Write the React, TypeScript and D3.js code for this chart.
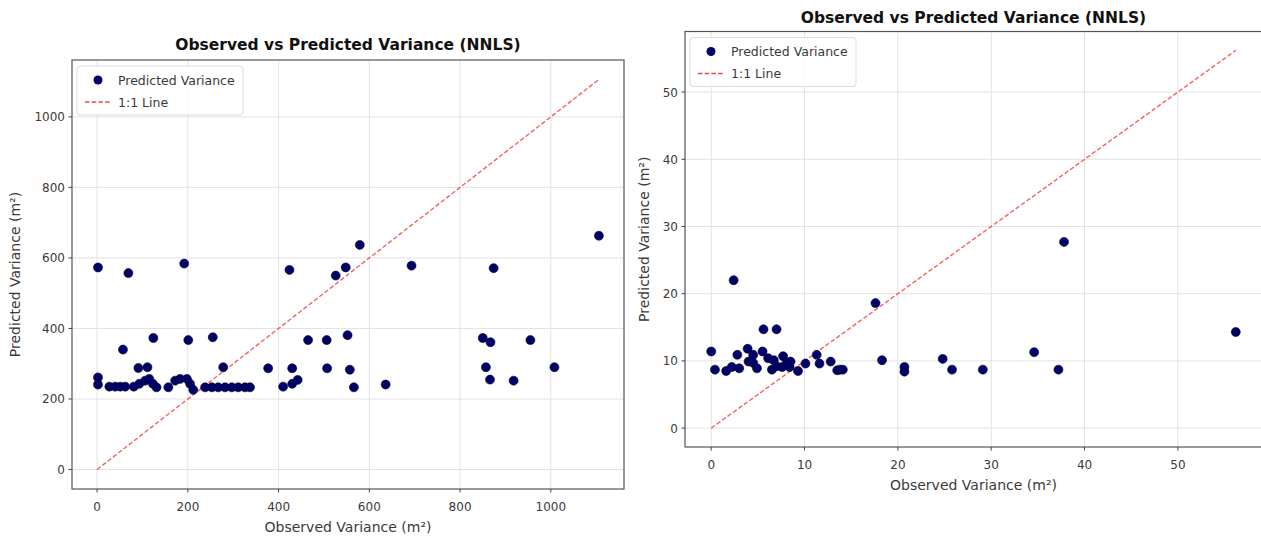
import React from 'react';
import * as d3 from 'd3';

// left panel: observed vs predicted (m²)
const leftObserved = [2, 69, 192, 424, 526, 548, 579, 693, 874, 1106,
  57, 124, 201, 255, 465, 506, 552, 850, 867, 955,
  91, 111, 278, 377, 430, 507, 557, 857, 1008,
  2, 2, 27, 40, 51, 62, 81, 93, 106, 115, 123, 131, 157, 172, 183, 198, 205, 212,
  238, 253, 267, 282, 297, 311, 326, 337, 410, 430, 442, 566, 636, 866, 918];
const leftPredicted = [573, 557, 584, 566, 550, 573, 637, 578, 571, 663,
  340, 373, 367, 375, 367, 367, 381, 373, 361, 367,
  288, 290, 290, 287, 287, 287, 283, 290, 290,
  261, 241, 235, 235, 235, 235, 235, 243, 252, 257, 243, 233, 233, 252, 257, 257, 243, 226,
  233, 233, 233, 233, 233, 233, 233, 233, 235, 243, 254, 233, 241, 255, 252];

// right panel
const rightObserved = [0, 0.4, 1.6, 2.4, 2.8, 2.2, 3.0, 3.9, 4.0, 4.5, 4.5, 4.9, 5.6, 5.5, 6.1, 6.5,
  6.7, 7.0, 7.0, 7.6, 7.7, 8.1, 8.4, 8.5, 9.3, 10.1, 11.3, 11.6, 12.8, 13.5, 13.8, 14.1,
  17.6, 18.3, 20.7, 20.7, 24.8, 25.8, 29.1, 34.6, 37.2, 37.8, 56.2];
const rightPredicted = [11.4, 8.7, 8.5, 22.0, 10.9, 9.1, 8.9, 11.8, 9.9, 10.9, 9.7, 8.9, 14.7, 11.4, 10.4, 8.7,
  10.1, 14.7, 9.2, 9.1, 10.7, 9.7, 9.1, 9.9, 8.5, 9.6, 10.9, 9.6, 9.9, 8.6, 8.7, 8.7,
  18.6, 10.1, 9.1, 8.4, 10.3, 8.7, 8.7, 11.3, 8.7, 27.7, 14.3];

const leftTicks = [0, 200, 400, 600, 800, 1000];
const rightTicks = [0, 10, 20, 30, 40, 50];

const chartTitle = 'Observed vs Predicted Variance (NNLS)';
const xLabel = 'Observed Variance (m²)';
const yLabel = 'Predicted Variance (m²)';
const legendLabels = ['Predicted Variance', '1:1 Line'];

const FONT = 'DejaVu Sans, sans-serif';

type PanelProps = {
  obs: number[];
  pred: number[];
  ticks: number[];
  box: { left: number; right: number; top: number; bottom: number };
  titleY: number;
  ylabelGap: number;
};

function Panel({ obs, pred, ticks, box, titleY, ylabelGap }: PanelProps) {
  const maxVal = Math.max(d3.max(obs)!, d3.max(pred)!);
  const pad = maxVal * 0.05;
  const x = d3.scaleLinear().domain([-pad, maxVal + pad]).range([box.left, box.right]);
  const y = d3.scaleLinear().domain([-pad, maxVal + pad]).range([box.bottom, box.top]);
  const line = d3.line<number>().x(d => x(d)).y(d => y(d));
  const cx = (box.left + box.right) / 2;
  const cy = (box.top + box.bottom) / 2;
  const clipId = 'clip' + box.left;

  return (
    <g>
      <defs>
        <clipPath id={clipId}>
          <rect x={box.left} y={box.top} width={box.right - box.left} height={box.bottom - box.top} />
        </clipPath>
      </defs>
      <rect x={box.left} y={box.top} width={box.right - box.left} height={box.bottom - box.top} fill="#fff" />
      {/* grid */}
      {ticks.map(t => (
        <g key={'g' + t} stroke="#e2e2e2" strokeWidth={1}>
          <line x1={x(t)} x2={x(t)} y1={box.top} y2={box.bottom} />
          <line x1={box.left} x2={box.right} y1={y(t)} y2={y(t)} />
        </g>
      ))}
      <g clipPath={`url(#${clipId})`}>
        <path d={line([0, maxVal])!} fill="none" stroke="#f04848" strokeOpacity={0.85}
          strokeWidth={1.4} strokeDasharray="4.5,2.2" />
        {obs.map((o, i) => (
          <circle key={i} cx={x(o)} cy={y(pred[i])} r={4.5} fill="#000066" stroke="#000033" strokeWidth={0.6} />
        ))}
      </g>
      <rect x={box.left} y={box.top} width={box.right - box.left} height={box.bottom - box.top}
        fill="none" stroke="#555" strokeWidth={1.2} />
      {/* ticks */}
      {ticks.map(t => (
        <g key={'t' + t} fontFamily={FONT} fontSize={12} fill="#3a3a3a">
          <line x1={x(t)} x2={x(t)} y1={box.bottom} y2={box.bottom + 3.5} stroke="#444" />
          <text x={x(t)} y={box.bottom + 22} textAnchor="middle">{t}</text>
          <line x1={box.left - 3.5} x2={box.left} y1={y(t)} y2={y(t)} stroke="#444" />
          <text x={box.left - 7} y={y(t) + 4.5} textAnchor="end">{t}</text>
        </g>
      ))}
      <text x={cx} y={box.bottom + 43} textAnchor="middle" fontFamily={FONT} fontSize={14} fill="#3a3a3a">{xLabel}</text>
      <text transform={`translate(${box.left - ylabelGap},${cy}) rotate(-90)`} textAnchor="middle"
        fontFamily={FONT} fontSize={14} fill="#3a3a3a">{yLabel}</text>
      <text x={cx} y={titleY} textAnchor="middle" fontFamily={FONT} fontSize={15.5} fontWeight="bold" fill="#111">
        {chartTitle}
      </text>
      {/* legend */}
      <g fontFamily={FONT} fontSize={12.5} fill="#3a3a3a">
        <rect x={box.left + 5} y={box.top + 6} width={166} height={49} rx={3}
          fill="#fff" fillOpacity={0.85} stroke="#ddd" />
        <circle cx={box.left + 26} cy={box.top + 20} r={4.5} fill="#000066" />
        <text x={box.left + 46} y={box.top + 24.5}>{legendLabels[0]}</text>
        <line x1={box.left + 13} x2={box.left + 39} y1={box.top + 42} y2={box.top + 42}
          stroke="#f04848" strokeWidth={1.4} strokeDasharray="4.5,2.2" />
        <text x={box.left + 46} y={box.top + 46.5}>{legendLabels[1]}</text>
      </g>
    </g>
  );
}

export default function App() {
  return (
    <div style={{ position: 'absolute', left: 0, top: 0 }}>
      <svg width={1261} height={539} style={{ display: 'block', background: '#fff' }}>
        <Panel obs={leftObserved} pred={leftPredicted} ticks={leftTicks}
          box={{ left: 72, right: 624, top: 60, bottom: 489 }} titleY={50} ylabelGap={52} />
        <Panel obs={rightObserved} pred={rightPredicted} ticks={rightTicks}
          box={{ left: 685, right: 1262, top: 31.5, bottom: 447 }} titleY={23} ylabelGap={36} />
      </svg>
    </div>
  );
}
